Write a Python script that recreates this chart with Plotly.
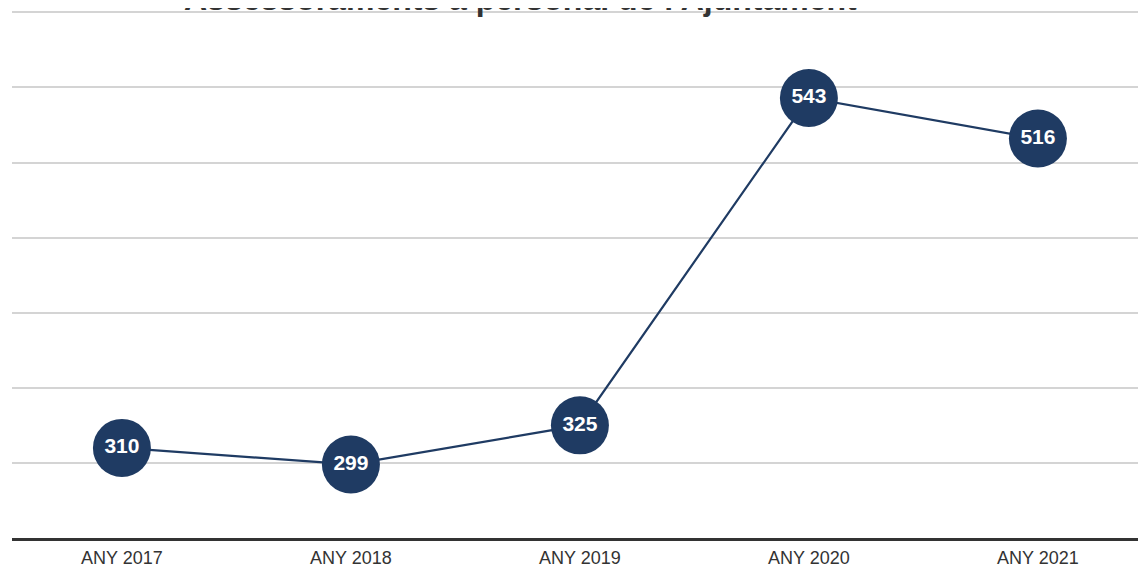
import plotly.graph_objects as go

categories = ["ANY 2017", "ANY 2018", "ANY 2019", "ANY 2020", "ANY 2021"]
values = [310, 299, 325, 543, 516]
title_text = "Assessoraments a personal de l'Ajuntament"

navy = "#1f3b63"
font_family = "Liberation Sans, Arial, sans-serif"

fig = go.Figure()
fig.add_trace(go.Scatter(
    x=categories, y=values,
    mode="lines+markers+text",
    line=dict(color=navy, width=2.2),
    marker=dict(size=58, color=navy, line=dict(width=0)),
    text=[str(v) for v in values],
    textposition="middle center",
    textfont=dict(color="white", size=21, family=font_family, weight="bold"),
    cliponaxis=False,
    hoverinfo="skip",
))

fig.add_annotation(
    text="<b>" + title_text + "</b>",
    xref="paper", yref="paper",
    x=(512 - 4) / 1142, y=1 - 9 / 528,
    xanchor="center", yanchor="bottom",
    showarrow=False,
    font=dict(size=32, color="#333333", family=font_family),
)

fig.update_layout(
    width=1146, height=568,
    margin=dict(l=4, r=0, t=2, b=38),
    paper_bgcolor="white", plot_bgcolor="white",
    showlegend=False,
    xaxis=dict(
        type="category",
        range=[-0.480, 4.507],
        showgrid=False,
        showline=True, linecolor="#333333", linewidth=3,
        ticks="", ticklabelstandoff=1,
        tickfont=dict(size=18, color="#333333", family=font_family),
        fixedrange=True,
    ),
    yaxis=dict(
        range=[250, 601.6],
        dtick=50, tick0=250,
        showgrid=True, gridcolor="#d4d4d4", gridwidth=2,
        zeroline=False, showticklabels=False, ticks="",
        fixedrange=True,
    ),
)

fig.write_html("out.html")
